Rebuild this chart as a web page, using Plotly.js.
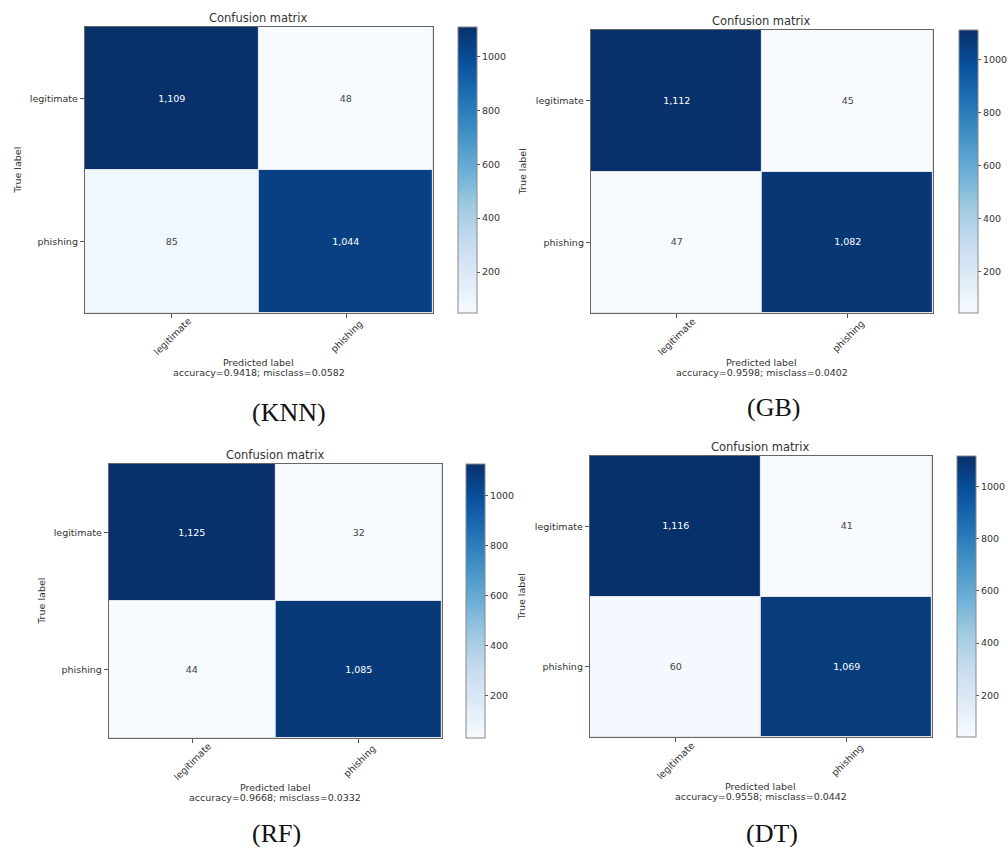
<!DOCTYPE html>
<html><head><meta charset="utf-8">
<script src="https://cdn.plot.ly/plotly-3.0.1.min.js"></script>
<style>html,body{margin:0;padding:0;background:#fff}#chart{width:1008px;height:847px}</style>
</head><body><div id="chart"></div>
<script>
// ---- data ----
const categories = ['legitimate', 'phishing'];
const models = ['KNN', 'GB', 'RF', 'DT'];
const knnMatrix = [[1109, 48], [85, 1044]];
const gbMatrix  = [[1112, 45], [47, 1082]];
const rfMatrix  = [[1125, 32], [44, 1085]];
const dtMatrix  = [[1116, 41], [60, 1069]];
const accuracy = [0.9418, 0.9598, 0.9668, 0.9558];
const misclass = [0.0582, 0.0402, 0.0332, 0.0442];
const colorbarTicks = [200, 400, 600, 800, 1000];
const matrices = [knnMatrix, gbMatrix, rfMatrix, dtMatrix];

// ---- layout geometry (pixels) ----
const W = 1008, H = 847;
const panels = [
  {l: 85,  r: 434, t: 27,  b: 313, cb: 459, cx: 290, cy: 413},
  {l: 592, r: 935, t: 30,  b: 313, cb: 961, cx: 775, cy: 408},
  {l: 109, r: 443, t: 464, b: 738, cb: 467, cx: 277, cy: 833},
  {l: 591, r: 934, t: 456, b: 737, cb: 959, cx: 774, cy: 833}
];
const blues = [[0,'#f7fbff'],[0.125,'#deebf7'],[0.25,'#c6dbef'],[0.375,'#9ecae1'],[0.5,'#6baed6'],[0.625,'#4292c6'],[0.75,'#2171b5'],[0.875,'#08519c'],[1,'#08306b']];
const FONT = 'DejaVu Sans, sans-serif';
const SERIF = 'Liberation Serif, Times New Roman, serif';

const data = [];
const layout = {
  width: W, height: H,
  margin: {l: 0, r: 0, t: 0, b: 0},
  paper_bgcolor: '#ffffff', plot_bgcolor: '#dfe4ea',
  showlegend: false,
  font: {family: FONT, size: 10, color: '#333'},
  annotations: []
};

matrices.forEach((m, i) => {
  const p = panels[i];
  const s = i === 0 ? '' : String(i + 1);
  data.push({
    type: 'heatmap', z: m, x: categories, y: categories,
    xaxis: 'x' + s, yaxis: 'y' + s,
    colorscale: blues, xgap: 1, ygap: 1,
    texttemplate: '%{z:,}',
    textfont: {family: FONT, size: 9.5},
    hoverinfo: 'skip',
    colorbar: {
      x: p.cb / W, xanchor: 'left', xpad: 0, ypad: 0,
      y: 1 - (p.t + p.b) / 2 / H, yanchor: 'middle',
      lenmode: 'pixels', len: p.b - p.t,
      thicknessmode: 'pixels', thickness: 19,
      outlinewidth: 1, outlinecolor: '#888',
      tickvals: colorbarTicks, ticks: 'outside', ticklen: 3, tickcolor: '#555',
      tickfont: {family: FONT, size: 9.5, color: '#333'}
    }
  });
  layout['xaxis' + s] = {
    domain: [p.l / W, p.r / W], anchor: 'y' + s,
    showticklabels: false, ticks: 'outside', ticklen: 4, tickcolor: '#555',
    showline: true, mirror: true, linecolor: '#666', linewidth: 1,
    showgrid: false, zeroline: false, fixedrange: true
  };
  layout['yaxis' + s] = {
    domain: [1 - p.b / H, 1 - p.t / H], anchor: 'x' + s,
    autorange: 'reversed',
    ticks: 'outside', ticklen: 4, tickcolor: '#555',
    tickfont: {family: FONT, size: 9.5, color: '#333'},
    showline: true, mirror: true, linecolor: '#666', linewidth: 1,
    showgrid: false, zeroline: false, fixedrange: true
  };
  const xd = 'x' + s + ' domain', yd = 'y' + s + ' domain';
  const A = layout.annotations;
  A.push({xref: xd, yref: yd, x: 0.5, y: 1, yshift: 9, xanchor: 'center', yanchor: 'middle',
          text: 'Confusion matrix', showarrow: false, font: {family: FONT, size: 11.5, color: '#333'}});
  categories.forEach(c => {
    A.push({xref: 'x' + s, yref: yd, x: c, y: 0, yshift: -23, xanchor: 'center', yanchor: 'middle',
            textangle: -45, text: c, showarrow: false, font: {family: FONT, size: 9.5, color: '#333'}});
  });
  A.push({xref: xd, yref: yd, x: 0, y: 0.5, xshift: -68, xanchor: 'center', yanchor: 'middle',
          textangle: -90, text: 'True label', showarrow: false, font: {family: FONT, size: 9.5, color: '#333'}});
  A.push({xref: xd, yref: yd, x: 0.5, y: 0, yshift: -49, xanchor: 'center', yanchor: 'middle',
          text: 'Predicted label', showarrow: false, font: {family: FONT, size: 9.5, color: '#333'}});
  A.push({xref: xd, yref: yd, x: 0.5, y: 0, yshift: -59, xanchor: 'center', yanchor: 'middle',
          text: 'accuracy=' + accuracy[i].toFixed(4) + '; misclass=' + misclass[i].toFixed(4),
          showarrow: false, font: {family: FONT, size: 9.5, color: '#333'}});
  A.push({xref: 'paper', yref: 'paper', x: p.cx / W, y: 1 - p.cy / H, xanchor: 'center', yanchor: 'middle',
          text: '(' + models[i] + ')', showarrow: false, font: {family: SERIF, size: 26, color: '#111'}});
});

Plotly.newPlot('chart', data, layout, {displayModeBar: false, staticPlot: true});
</script>
</body></html>
